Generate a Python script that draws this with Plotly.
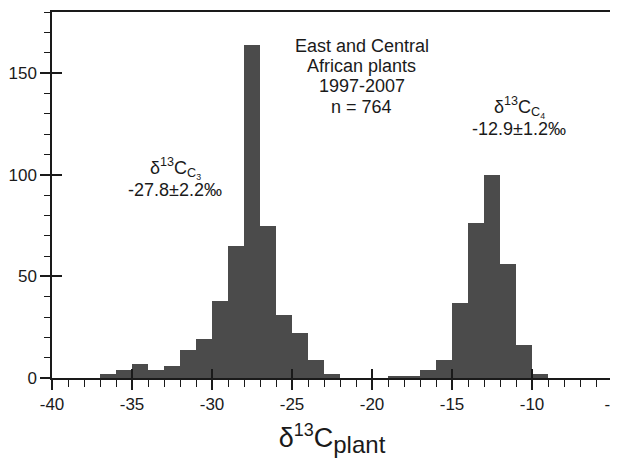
import plotly.graph_objects as go

# Histogram of δ13C values (1‰ bins), left edges and counts
bin_left = [-37, -36, -35, -34, -33, -32, -31, -30, -29, -28, -27, -26, -25, -24, -23,
            -22, -21, -20, -19, -18, -17, -16, -15, -14, -13, -12, -11, -10]
counts = [2, 4, 7, 4, 6, 14, 19, 38, 65, 164, 75, 31, 22, 9, 2,
          0, 0, 0, 1, 1, 4, 9, 37, 76, 100, 56, 16, 2]

x_range = [-40, -5]
y_range = [0, 180]
x_tickvals = [-40, -35, -30, -25, -20, -15, -10, -5]
x_ticktext = ["-40", "-35", "-30", "-25", "-20", "-15", "-10", "-5"]
y_tickvals = [0, 50, 100, 150]
y_ticktext = ["0", "50", "100", "150"]

info_lines = ["East and Central", "African plants", "1997-2007", "n = 764"]
info_y = [163.5, 153.5, 143.5, 133.5]
c3_lines = ["δ<sup>13</sup>C<sub>C<sub>3</sub></sub>", "-27.8±2.2‰"]
c3_y = [103, 92.5]
c4_lines = ["δ<sup>13</sup>C<sub>C<sub>4</sub></sub>", "-12.9±1.2‰"]
c4_y = [133, 122.5]

FONT = "Liberation Sans, Arial, sans-serif"
INK = "#1a1a1a"

fig = go.Figure()
fig.add_trace(go.Bar(x=bin_left, y=counts, width=1, offset=0,
                     marker=dict(color="#4b4b4b", line=dict(width=0)),
                     showlegend=False))
# invisible copy on a second, coincident subplot that carries the inside tick halves
fig.add_trace(go.Bar(x=bin_left, y=counts, width=1, offset=0, xaxis="x2", yaxis="y2",
                     marker=dict(color="rgba(0,0,0,0)", line=dict(width=0)),
                     showlegend=False, hoverinfo="skip"))

ann = []
for t, y in zip(info_lines, info_y):
    ann.append(dict(x=-20.65, y=y, text=t))
for t, y in zip(c3_lines, c3_y):
    ann.append(dict(x=-32.3, y=y, text=t))
for t, y in zip(c4_lines, c4_y):
    ann.append(dict(x=-10.8, y=y, text=t))
for a in ann:
    a.update(xref="x", yref="y", showarrow=False, xanchor="center", yanchor="middle",
             font=dict(size=18, family=FONT, color=INK))

fig.update_layout(
    width=618, height=450,
    margin=dict(l=44, r=14, t=4, b=80),
    plot_bgcolor="rgba(0,0,0,0)", paper_bgcolor="white",
    bargap=0, barmode="overlay",
    font=dict(family=FONT, color=INK, size=17),
    annotations=ann,
    xaxis=dict(range=x_range, tickvals=x_tickvals, ticktext=x_ticktext,
               ticks="outside", ticklen=10,
               tickwidth=1.5, tickcolor=INK, showline=True, linecolor=INK, linewidth=1.5,
               mirror=True, showgrid=False, zeroline=False, automargin=False,
               ticklabeloverflow="allow",
               minor=dict(dtick=1, ticks="outside", ticklen=7, tickwidth=1.2, tickcolor=INK),
               tickfont=dict(size=17),
               title=dict(text="δ<sup><span style='font-size:18px'>13</span></sup>C<sub><span style='font-size:24px'>plant</span></sub>",
                          font=dict(size=27), standoff=25)),
    yaxis=dict(range=y_range, tickvals=y_tickvals, ticktext=y_ticktext,
               ticks="outside", ticklen=10,
               tickwidth=1.5, tickcolor=INK, showline=True, linecolor=INK, linewidth=1.5,
               mirror=True, showgrid=False, zeroline=False, automargin=False,
               minor=dict(dtick=10, ticks="outside", ticklen=6, tickwidth=1.2, tickcolor=INK),
               tickfont=dict(size=17)),
    xaxis2=dict(range=x_range, domain=[0, 1], anchor="y2", tickvals=x_tickvals,
                ticks="inside", ticklen=9, tickwidth=1.5, tickcolor=INK,
                showticklabels=False, showgrid=False, zeroline=False, showline=False,
                automargin=False),
    yaxis2=dict(range=y_range, domain=[0, 1], anchor="x2", tickvals=y_tickvals,
                ticks="inside", ticklen=10, tickwidth=1.5, tickcolor=INK,
                showticklabels=False, showgrid=False, zeroline=False, showline=False,
                automargin=False),
)

fig.write_html("out.html")
